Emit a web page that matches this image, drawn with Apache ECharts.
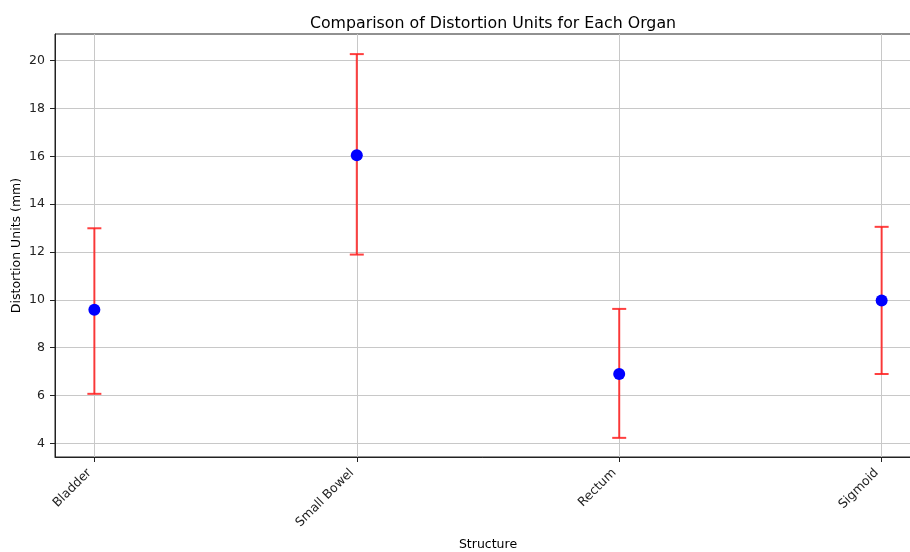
<!DOCTYPE html>
<html>
<head>
<meta charset="utf-8">
<script src="https://cdn.jsdelivr.net/npm/echarts@6/dist/echarts.min.js"></script>
<style>
  html, body { margin: 0; padding: 0; background: #fff; }
  #chart { width: 910px; height: 552px; }
</style>
</head>
<body>
<div id="chart"></div>
<script>
  // values
  const categories = ['Bladder', 'Small Bowel', 'Rectum', 'Sigmoid']
  const means = [9.58, 16.04, 6.9, 9.97]
  const lower = [6.07, 11.89, 4.23, 6.9]
  const upper = [12.99, 20.27, 9.62, 13.05]
  const yTicks = [4, 6, 8, 10, 12, 14, 16, 18, 20]
  const xTicks = [0, 1, 2, 3]

  const font = "'DejaVu Sans', sans-serif"
  const chart = echarts.init(document.getElementById('chart'))

  const option = {
    backgroundColor: '#fff',
    animation: false,
    textStyle: { fontFamily: font },
    title: {
      text: 'Comparison of Distortion Units for Each Organ',
      left: 488,
      textAlign: 'center',
      top: 11,
      textStyle: { fontFamily: font, fontSize: 15.8, fontWeight: 'normal', color: '#000' }
    },
    grid: {
      left: 55,
      top: 34,
      width: 866,
      height: 423,
      show: true,
      borderColor: '#222',
      borderWidth: 1,
      containLabel: false,
      outerBoundsMode: 'none'
    },
    xAxis: {
      type: 'value',
      min: -0.15,
      max: 3.15,
      name: 'Structure',
      nameLocation: 'middle',
      nameGap: 81,
      nameMoveOverlap: false,
      nameTextStyle: { fontFamily: font, fontSize: 12.5, color: '#000' },
      axisLine: { show: true, onZero: false, lineStyle: { color: '#222', width: 1 } },
      axisTick: { show: true, customValues: xTicks, length: 5, lineStyle: { color: '#222' } },
      axisLabel: {
        customValues: xTicks,
        rotate: 45,
        margin: 9,
        padding: [0, 7, 0, 0],
        fontFamily: font,
        fontSize: 12.5,
        color: '#222',
        formatter: (v) => categories[Math.round(v)] || ''
      },
      splitLine: { show: true, lineStyle: { color: '#c8c8c8', width: 1 } }
    },
    yAxis: {
      type: 'value',
      min: 3.43,
      max: 21.11,
      name: 'Distortion Units (mm)',
      nameLocation: 'middle',
      nameGap: 32,
      nameMoveOverlap: false,
      nameTextStyle: { fontFamily: font, fontSize: 12.5, color: '#000' },
      axisLine: { show: true, onZero: false, lineStyle: { color: '#222', width: 1 } },
      axisTick: { show: true, customValues: yTicks, length: 5, lineStyle: { color: '#222' } },
      axisLabel: {
        customValues: yTicks,
        margin: 10,
        fontFamily: font,
        fontSize: 12.5,
        color: '#222'
      },
      splitLine: { show: true, lineStyle: { color: '#c8c8c8', width: 1 } }
    },
    series: [
      {
        type: 'custom',
        name: 'error',
        renderItem: (params, api) => {
          const x = api.value(0)
          const lo = api.coord([x, api.value(1)])
          const hi = api.coord([x, api.value(2)])
          const cap = 7
          const style = { stroke: 'rgba(255,30,30,0.85)', lineWidth: 2 }
          return {
            type: 'group',
            children: [
              { type: 'line', shape: { x1: lo[0], y1: lo[1], x2: hi[0], y2: hi[1] }, style },
              { type: 'line', shape: { x1: lo[0] - cap, y1: lo[1], x2: lo[0] + cap, y2: lo[1] }, style },
              { type: 'line', shape: { x1: hi[0] - cap, y1: hi[1], x2: hi[0] + cap, y2: hi[1] }, style }
            ]
          }
        },
        encode: { x: 0, y: [1, 2] },
        data: categories.map((c, i) => [i, lower[i], upper[i]]),
        z: 2
      },
      {
        type: 'scatter',
        name: 'mean',
        symbol: 'circle',
        symbolSize: 12,
        itemStyle: { color: '#0000ff', opacity: 1 },
        data: categories.map((c, i) => [i, means[i]]),
        z: 3
      }
    ]
  }

  chart.setOption(option)
</script>
</body>
</html>
